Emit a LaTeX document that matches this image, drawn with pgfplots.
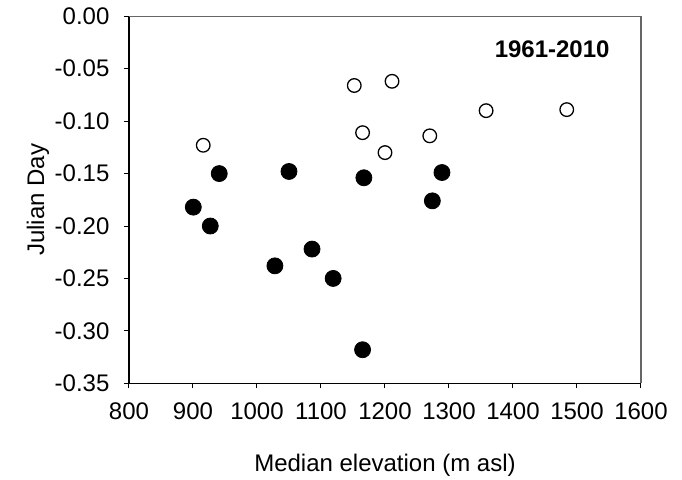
\documentclass[border=0pt]{standalone}
\usepackage{fontspec}
\setmainfont{Liberation Sans}
\usepackage{pgfplots}
\pgfplotsset{compat=1.18}
\begin{document}
\fontsize{12}{14.4}\selectfont
\begin{tikzpicture}
\useasboundingbox (-64.5pt,-48.35pt) rectangle (276.5pt,191.65pt);
\begin{axis}[
  scale only axis, width=256pt, height=183.5pt,
  anchor=south west, at={(0,0)},
  xmin=800, xmax=1600, ymin=-0.35, ymax=0,
  xtick={800,900,...,1600},
  ytick={-0.35,-0.30,-0.25,-0.20,-0.15,-0.10,-0.05,0},
  axis x line*=bottom, axis y line*=left,
  axis line style={line width=0.6pt, black},
  tick align=outside, major tick length=2.6pt,
  tick style={line width=0.5pt, black},
  /pgf/number format/assume math mode=true,
  xticklabel style={/pgf/number format/1000 sep={}, yshift=-3pt},
  yticklabel style={/pgf/number format/fixed, /pgf/number format/fixed zerofill, /pgf/number format/precision=2, xshift=-3pt},
  scaled y ticks=false,
  xlabel={Median elevation (m asl)},
  ylabel={Julian Day},
  xlabel style={at={(axis description cs:0.5,-0.2226)}, anchor=center},
  ylabel style={at={(axis description cs:-0.1777,0.5)}, anchor=center, rotate=0},
  clip=false,
]
\draw[line width=0.6pt, black!60] (rel axis cs:0,1) -- (rel axis cs:1,1) -- (rel axis cs:1,0);
\addplot[only marks, mark=*, mark size=4pt, mark options={fill=black, draw=black}] coordinates {
(900.5,-0.182) (927,-0.200) (941,-0.150) (1050,-0.148) (1028,-0.238) (1086,-0.222)
(1119,-0.250) (1167,-0.154) (1165,-0.318) (1274,-0.176) (1289,-0.149)
};
\addplot[only marks, mark=o, mark size=3.4pt, mark options={draw=black, fill=white, line width=0.65pt}] coordinates {
(916,-0.123) (1152,-0.066) (1211,-0.062) (1165,-0.111) (1200,-0.130)
(1270,-0.114) (1358,-0.090) (1484,-0.089)
};
\node[anchor=east, font=\bfseries] at (axis cs:1564,-0.031) {1961-2010};
\end{axis}
\end{tikzpicture}
\end{document}
